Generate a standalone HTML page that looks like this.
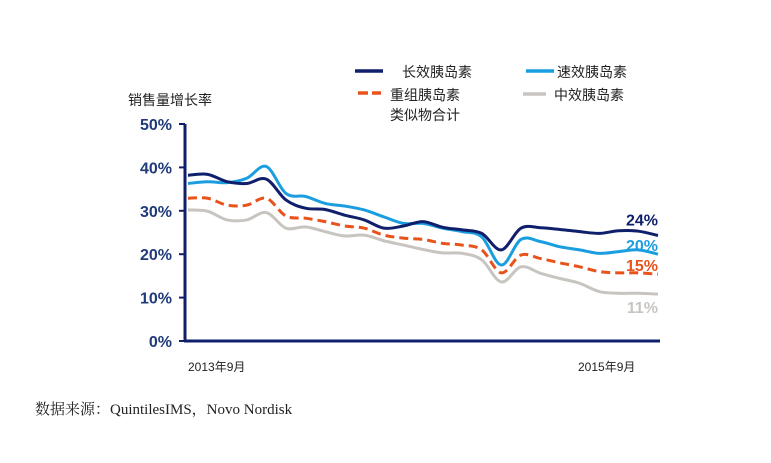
<!DOCTYPE html>
<html><head><meta charset="utf-8"><style>
body{margin:0;background:#fff;}
svg text{font-family:"Liberation Sans","Noto Sans CJK SC",sans-serif;}
</style></head><body>
<svg id="chart" width="771" height="458" viewBox="0 0 771 458">
  <text x="128" y="105" font-size="14" fill="#222">销售量增长率</text>
  <g>
    <line x1="355" y1="71" x2="383" y2="71" stroke="#0f1f6b" stroke-width="3.5"/>
    <text x="402" y="77" font-size="14" fill="#222">长效胰岛素</text>
    <line x1="526" y1="71" x2="554" y2="71" stroke="#1a9ee0" stroke-width="3.5"/>
    <text x="557" y="77" font-size="14" fill="#222">速效胰岛素</text>
    <line x1="358" y1="93" x2="381" y2="93" stroke="#e8531c" stroke-width="3.5" stroke-dasharray="10,4"/>
    <text x="390" y="100" font-size="14" fill="#222">重组胰岛素</text>
    <text x="390" y="120" font-size="14" fill="#222">类似物合计</text>
    <line x1="523" y1="94" x2="546" y2="94" stroke="#c8c5c0" stroke-width="3.5"/>
    <text x="554" y="100" font-size="14" fill="#222">中效胰岛素</text>
  </g>
  <g id="axes"></g>
  <g id="series"></g>
  <text x="188" y="371" font-size="12" fill="#222">2013年9月</text>
  <text x="578" y="371" font-size="12" fill="#222">2015年9月</text>
  <text x="35" y="414" font-size="15" fill="#222" style="font-family:'Liberation Serif','Noto Serif CJK SC',serif">数据来源：QuintilesIMS，Novo Nordisk</text>
</svg>
<script>
const yTicks=[0,10,20,30,40,50];
const longActing=[38.2,38.4,36.7,36.3,37.3,32.5,30.6,30.3,29.0,27.9,26.0,26.5,27.5,26.2,25.6,24.8,21.0,26.0,26.1,25.7,25.2,24.8,25.4,25.3,24.3];
const rapidActing=[36.3,36.7,36.5,37.5,40.2,34.0,33.3,31.7,31.1,30.2,28.6,27.1,27.1,26.0,25.2,24.0,17.5,23.4,22.9,21.7,21.0,20.2,20.6,21.0,20.0];
const analogTotal=[32.9,32.9,31.3,31.3,32.9,28.8,28.3,27.5,26.5,26.0,24.4,23.7,23.4,22.5,22.1,21.0,15.7,19.8,19.0,18.0,17.1,16.0,15.7,15.7,15.4];
const intermediate=[30.2,29.9,27.9,27.9,29.6,26.0,26.3,25.2,24.2,24.4,23.1,22.1,21.1,20.3,20.2,18.7,13.6,17.1,15.6,14.4,13.3,11.4,11.0,11.0,10.8];
const endLabels=["24%","20%","15%","11%"];

const NS="http://www.w3.org/2000/svg";
const x0=188,x1=658,yBase=341,yTop=124;
function X(i){return x0+(x1-x0)*i/(longActing.length-1);}
function Y(v){return yBase-(yBase-yTop)*v/50;}
function mk(tag,attrs,parent){const e=document.createElementNS(NS,tag);for(const k in attrs)e.setAttribute(k,attrs[k]);parent.appendChild(e);return e;}
const axes=document.getElementById('axes');
let a=mk('line',{x1:185,y1:yTop,x2:185,y2:yBase+1,stroke:'#0f1f6b','stroke-width':3},axes);


a=mk('line',{x1:184,y1:yBase,x2:660,y2:yBase,stroke:'#0f1f6b','stroke-width':3},axes);


yTicks.forEach(t=>{
  const tk=mk('line',{x1:179,y1:Y(t),x2:185,y2:Y(t),stroke:'#0f1f6b','stroke-width':2},axes);
  
  
  const tx=mk('text',{x:172,y:Y(t)+6,'text-anchor':'end','font-size':16,'font-weight':'bold',fill:'#1f3a7a'},axes);
  tx.textContent=t+'%';
  
  
});
function path(vals){
  const p=vals.map((v,i)=>[X(i),Y(v)]);
  let d='M'+p[0][0]+','+p[0][1];
  for(let i=0;i<p.length-1;i++){
    const p0=p[Math.max(i-1,0)],p1=p[i],p2=p[i+1],p3=p[Math.min(i+2,p.length-1)];
    const c1=[p1[0]+(p2[0]-p0[0])/6,p1[1]+(p2[1]-p0[1])/6];
    const c2=[p2[0]-(p3[0]-p1[0])/6,p2[1]-(p3[1]-p1[1])/6];
    d+=' C'+c1+' '+c2+' '+p2;
  }
  return d;
}
const sg=document.getElementById('series');
const defs=[[intermediate,'#c8c5c0','','series-intermediate'],[analogTotal,'#e8531c','9,5','series-analog-total'],[rapidActing,'#1a9ee0','','series-rapid-acting'],[longActing,'#0f1f6b','','series-long-acting']];
defs.forEach(([vals,c,dash,name])=>{
  const e=mk('path',{d:path(vals),fill:'none',stroke:c,'stroke-width':3,'stroke-dasharray':dash||'none','stroke-linejoin':'round'},sg);
  
  
});
const labelVals=[longActing,rapidActing,analogTotal,intermediate];
const labelCols=['#0f1f6b','#1a9ee0','#e8531c','#c8c5c0'];
const labelOff=[-10,-3,-3,19];
labelVals.forEach((vals,k)=>{
  const v=vals[vals.length-1];
  const t=mk('text',{x:658,y:Y(v)+labelOff[k],'text-anchor':'end','font-size':16,'font-weight':'bold',fill:labelCols[k]},sg);
  t.textContent=endLabels[k];
  
  
});
</script>
</body></html>
